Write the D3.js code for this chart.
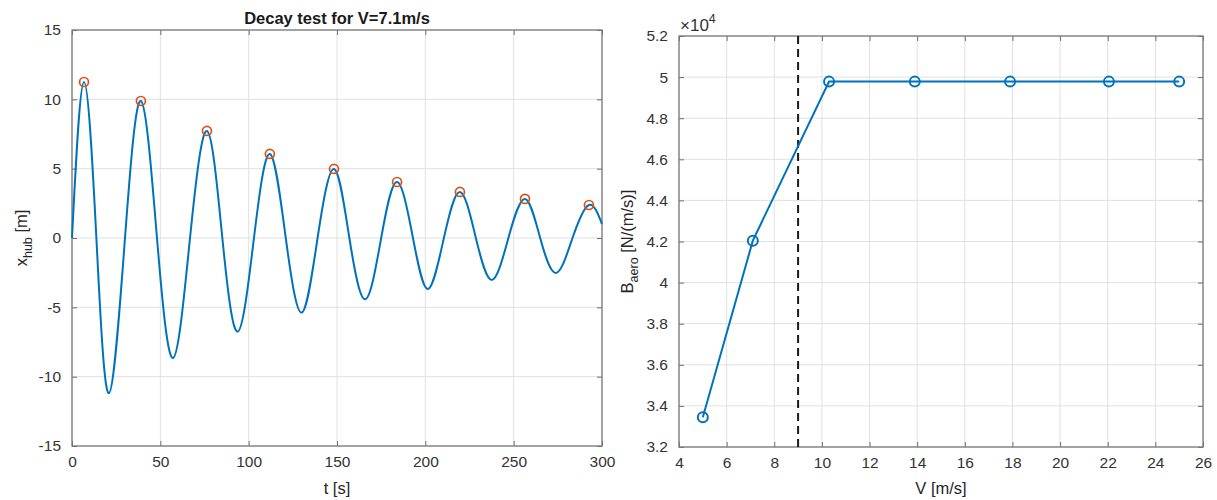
<!DOCTYPE html>
<html>
<head>
<meta charset="utf-8">
<script src="https://cdn.jsdelivr.net/npm/d3@7"></script>
<style>
  body { margin: 0; background: #fff; }
  svg { font-family: "Liberation Sans", Arial, Helvetica, sans-serif; }
  .tick text { fill: #333; font-size: 15.5px; }
</style>
</head>
<body>
<svg id="chart" width="1217" height="500"></svg>
<script>
// decay test: key points of the x_hub curve (peaks, troughs, zero crossings)
var timeS = [0, 6.8, 13.8, 20.9, 30.0, 39.0, 48.1, 57.2, 66.8, 76.4, 85.1, 93.8, 103, 112, 121, 130,
             139, 148.3, 157, 166, 175, 184, 193, 201.5, 210.5, 219.6, 228.6, 237.7, 247, 256.4,
             265, 274, 283.3, 292.6, 300];
var xHub  = [0, 11.25, 0, -11.2, 0, 9.88, 0, -8.65, 0, 7.72, 0, -6.75, 0, 6.06, 0, -5.38,
             0, 4.98, 0, -4.42, 0, 4.04, 0, -3.67, 0, 3.32, 0, -3.02, 0, 2.82,
             0, -2.52, 0, 2.38, 1.0];
// detected peaks (orange circles)
var peakT = [6.8, 39.0, 76.4, 112, 148.3, 184, 219.6, 256.4, 292.6];
var peakX = [11.25, 9.88, 7.72, 6.06, 4.98, 4.04, 3.32, 2.82, 2.38];

// aerodynamic damping vs wind speed
var windV = [5, 7.1, 10.3, 13.9, 17.9, 22.05, 25];
var bAero = [33450, 42040, 49780, 49780, 49780, 49780, 49780];
var ratedV = 9;

var leftXTicks = [0, 50, 100, 150, 200, 250, 300];
var leftYTicks = [-15, -10, -5, 0, 5, 10, 15];
var rightXTicks = [4, 6, 8, 10, 12, 14, 16, 18, 20, 22, 24, 26];
var rightYTicks = [32000, 34000, 36000, 38000, 40000, 42000, 44000, 46000, 48000, 50000, 52000];

var blue = "#0072BD", orange = "#D95319";
var svg = d3.select("#chart");

function drawFrame(g, x, y, xt, yt, w, h, yfmt){
  // grid
  g.append("g").selectAll("line").data(xt).enter().append("line")
    .attr("x1", function(d){ return x(d); }).attr("x2", function(d){ return x(d); })
    .attr("y1", 0).attr("y2", h)
    .attr("stroke", "#e0e0e0").attr("stroke-width", 1);
  g.append("g").selectAll("line").data(yt).enter().append("line")
    .attr("y1", function(d){ return y(d); }).attr("y2", function(d){ return y(d); })
    .attr("x1", 0).attr("x2", w)
    .attr("stroke", "#e0e0e0").attr("stroke-width", 1);

  var ax = [
    g.append("g").attr("transform", "translate(0," + h + ")")
      .call(d3.axisBottom(x).tickValues(xt).tickSizeInner(-5).tickSizeOuter(0).tickPadding(10)
      .tickFormat(function(d){ return String(d); })),
    g.append("g")
      .call(d3.axisTop(x).tickValues(xt).tickSizeInner(-5).tickSizeOuter(0).tickFormat("")),
    g.append("g")
      .call(d3.axisLeft(y).tickValues(yt).tickSizeInner(-5).tickSizeOuter(0).tickPadding(11)
      .tickFormat(yfmt)),
    g.append("g").attr("transform", "translate(" + w + ",0)")
      .call(d3.axisRight(y).tickValues(yt).tickSizeInner(-5).tickSizeOuter(0).tickFormat(""))
  ];
  ax.forEach(function(a){
    a.select(".domain").remove();
    a.selectAll(".tick line").attr("stroke", "#6e6e6e").attr("stroke-width", 1);
    a.attr("font-family", null).attr("font-size", null);
  });
  g.append("rect").attr("width", w).attr("height", h)
    .attr("fill", "none").attr("stroke", "#7a7a7a").attr("stroke-width", 1.3);
}

/* ---------- left: decay test ---------- */
var L = {left: 72, top: 30, width: 530, height: 416};
var gL = svg.append("g").attr("transform", "translate(" + L.left + "," + L.top + ")");
var xL = d3.scaleLinear().domain([0, 300]).range([0, L.width]);
var yL = d3.scaleLinear().domain([-15, 15]).range([L.height, 0]);

drawFrame(gL, xL, yL, leftXTicks, leftYTicks, L.width, L.height, function(d){ return String(d); });

var curveData = timeS.map(function(d, i){ return {t: d, x: xHub[i]}; });
gL.append("path")
  .datum(curveData)
  .attr("fill", "none")
  .attr("stroke", blue)
  .attr("stroke-width", 2)
  .attr("d", d3.line().curve(d3.curveNatural)
    .x(function(d){ return xL(d.t); })
    .y(function(d){ return yL(d.x); }));

gL.append("g").selectAll("circle").data(peakT).enter().append("circle")
  .attr("cx", function(d){ return xL(d); })
  .attr("cy", function(d, i){ return yL(peakX[i]); })
  .attr("r", 4.5)
  .attr("fill", "none").attr("stroke", orange).attr("stroke-width", 1.7);

svg.append("text").attr("x", L.left + L.width / 2).attr("y", 24)
  .attr("text-anchor", "middle").attr("font-weight", "bold").attr("font-size", 16.5)
  .attr("fill", "#1a1a1a").text("Decay test for V=7.1m/s");

svg.append("text").attr("x", L.left + L.width / 2).attr("y", 494)
  .attr("text-anchor", "middle").attr("font-size", 16.5).attr("fill", "#262626").text("t [s]");

var ylabL = svg.append("text")
  .attr("transform", "translate(27," + (L.top + L.height / 2) + ") rotate(-90)")
  .attr("text-anchor", "middle").attr("font-size", 16.5).attr("fill", "#262626");
ylabL.append("tspan").text("x");
ylabL.append("tspan").attr("dy", 5).attr("font-size", 12.5).text("hub");
ylabL.append("tspan").attr("dy", -5).text(" [m]");

/* ---------- right: B_aero vs V ---------- */
var R = {left: 679, top: 36, width: 524, height: 411};
var gR = svg.append("g").attr("transform", "translate(" + R.left + "," + R.top + ")");
var xR = d3.scaleLinear().domain([4, 26]).range([0, R.width]);
var yR = d3.scaleLinear().domain([32000, 52000]).range([R.height, 0]);

drawFrame(gR, xR, yR, rightXTicks, rightYTicks, R.width, R.height, function(d){ return String(d / 1e4); });

gR.append("line")
  .attr("x1", xR(ratedV)).attr("x2", xR(ratedV))
  .attr("y1", 0).attr("y2", R.height)
  .attr("stroke", "#1a1a1a").attr("stroke-width", 2)
  .attr("stroke-dasharray", "8,5");

var bData = windV.map(function(d, i){ return {v: d, b: bAero[i]}; });
gR.append("path")
  .datum(bData)
  .attr("fill", "none")
  .attr("stroke", blue)
  .attr("stroke-width", 2)
  .attr("d", d3.line()
    .x(function(d){ return xR(d.v); })
    .y(function(d){ return yR(d.b); }));

gR.append("g").selectAll("circle").data(bData).enter().append("circle")
  .attr("cx", function(d){ return xR(d.v); })
  .attr("cy", function(d){ return yR(d.b); })
  .attr("r", 5)
  .attr("fill", "none").attr("stroke", blue).attr("stroke-width", 2);

// exponent label
var expo = svg.append("text").attr("x", R.left + 1).attr("y", 31)
  .attr("font-size", 17).attr("fill", "#333");
expo.append("tspan").text("\u00d710");
expo.append("tspan").attr("dy", -8).attr("font-size", 12.5).text("4");

svg.append("text").attr("x", R.left + R.width / 2).attr("y", 494)
  .attr("text-anchor", "middle").attr("font-size", 16.5).attr("fill", "#262626").text("V [m/s]");

var ylabR = svg.append("text")
  .attr("transform", "translate(633," + (R.top + R.height / 2) + ") rotate(-90)")
  .attr("text-anchor", "middle").attr("font-size", 16.5).attr("fill", "#262626");
ylabR.append("tspan").text("B");
ylabR.append("tspan").attr("dy", 5).attr("font-size", 12.5).text("aero");
ylabR.append("tspan").attr("dy", -5).text(" [N/(m/s)]");
</script>
</body>
</html>
